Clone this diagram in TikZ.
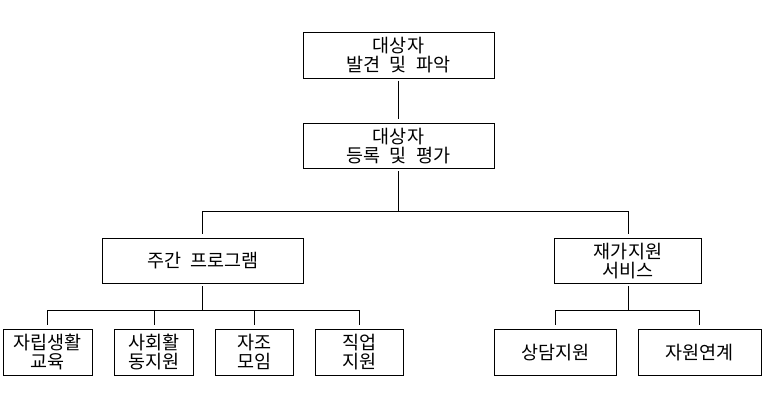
\documentclass[tikz,border=0pt]{standalone}
\usepackage{fontspec}
\setmainfont{Noto Sans CJK KR}[WordSpace=2.2]
\begin{document}
\begin{tikzpicture}[x=1pt,y=-1pt,
  box/.style={draw, line width=1pt, inner sep=0pt, align=center,
    font=\fontsize{18.5}{19}\selectfont},
  conn/.style={line width=0.9pt, shorten <=2pt, shorten >=4pt}]
\useasboundingbox (0,0) rectangle (763,405);
% boxes: center, width, height
\node[box, minimum width=191pt, minimum height=46pt] (find) at (398.5,55) {대상자\\발견 및 파악};
\node[box, minimum width=191pt, minimum height=45pt] (reg) at (398.5,146) {대상자\\등록 및 평가};
\node[box, minimum width=201pt, minimum height=45pt] (week) at (202.7,261) {주간 프로그램};
\node[box, minimum width=147pt, minimum height=45pt] (home) at (628,261) {재가지원\\서비스};
\node[box, minimum width=89pt, minimum height=46pt] (a) at (47.6,352.3) {자립생활\\교육};
\node[box, minimum width=79pt, minimum height=46pt] (b) at (154,352.3) {사회활\\동지원};
\node[box, minimum width=78pt, minimum height=46pt] (c) at (254.3,352.3) {자조\\모임};
\node[box, minimum width=88pt, minimum height=46pt] (d) at (359.3,352.3) {직업\\지원};
\node[box, minimum width=122pt, minimum height=46pt] (e) at (555.3,352.3) {상담지원};
\node[box, minimum width=123pt, minimum height=46pt] (f) at (699.8,352.3) {자원연계};
% bus levels
\coordinate (bus1) at (0,211);
\coordinate (bus2) at (0,310);
% connectors
\draw[conn] (find) -- (reg);
\draw[conn] (reg.south) -- (reg.south |- bus1) -| (week.north);
\draw[conn] (reg.south) -- (reg.south |- bus1) -| (home.north);
\foreach \k in {a,b,c,d}
  \draw[conn] (week.south) -- (week.south |- bus2) -| (\k.north);
\foreach \k in {e,f}
  \draw[conn] (home.south) -- (home.south |- bus2) -| (\k.north);
\end{tikzpicture}
\end{document}
